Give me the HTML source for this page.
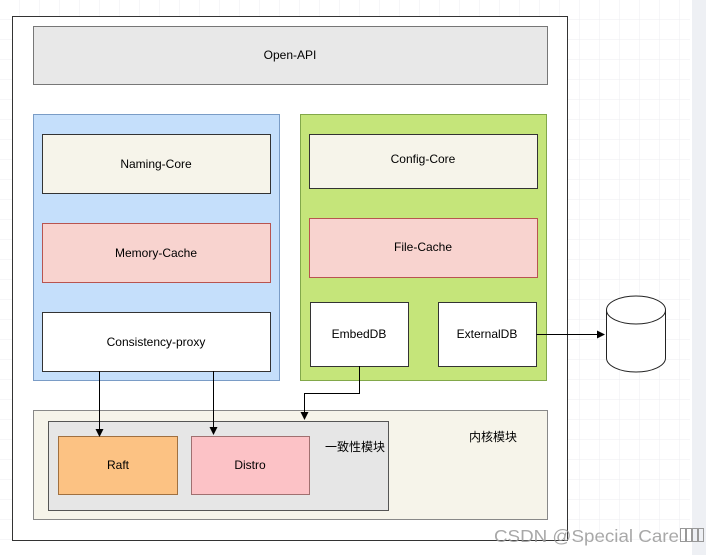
<!DOCTYPE html>
<html><head><meta charset="utf-8"><style>
body{margin:0;width:720px;height:555px;background:#fff;overflow:hidden;font-family:"Liberation Sans","Noto Sans CJK SC",sans-serif;}
</style></head><body>
<svg width="720" height="555" xmlns="http://www.w3.org/2000/svg" font-family="Liberation Sans, Noto Sans CJK SC, sans-serif" font-size="12">
<defs>
<pattern id="g" width="20" height="20" patternUnits="userSpaceOnUse"><path d="M20 0V20H0" fill="none" stroke="#eceef0" stroke-width="1"/></pattern>
<marker id="a" markerWidth="8" markerHeight="8" refX="7" refY="4" orient="auto" markerUnits="userSpaceOnUse"><path d="M0,0L8,4L0,8z" fill="#000"/></marker>
</defs>
<rect x="0" y="0" width="690" height="540" fill="url(#g)"/>
<rect x="692" y="0" width="14" height="555" fill="#eef0f4"/>
<rect x="12.5" y="16.5" width="555" height="524" fill="#fff" stroke="#333"/>
<rect x="33.5" y="26.5" width="514" height="58" fill="#e8e8e8" stroke="#777"/>
<text x="290" y="59" text-anchor="middle">Open-API</text>
<rect x="33.5" y="114.5" width="246" height="266" fill="#c5dffb" stroke="#7a9cc6"/>
<rect x="42.5" y="134.5" width="228" height="59" fill="#f6f4ea" stroke="#333"/>
<text x="156" y="168" text-anchor="middle">Naming-Core</text>
<rect x="42.5" y="223.5" width="228" height="59" fill="#f8d3cf" stroke="#b85450"/>
<text x="156" y="257" text-anchor="middle">Memory-Cache</text>
<rect x="42.5" y="312.5" width="228" height="59" fill="#fff" stroke="#333"/>
<text x="156" y="346" text-anchor="middle">Consistency-proxy</text>
<rect x="300.5" y="114.5" width="246" height="266" fill="#c5e57a" stroke="#82a84a"/>
<rect x="309.5" y="134.5" width="228" height="54" fill="#f6f4ea" stroke="#333"/>
<text x="423" y="163" text-anchor="middle">Config-Core</text>
<rect x="309.5" y="218.5" width="228" height="59" fill="#f8d3cf" stroke="#b85450"/>
<text x="423" y="251" text-anchor="middle">File-Cache</text>
<rect x="310.5" y="302.5" width="98" height="64" fill="#fff" stroke="#333"/>
<text x="359" y="338" text-anchor="middle">EmbedDB</text>
<rect x="438.5" y="302.5" width="98" height="64" fill="#fff" stroke="#333"/>
<text x="487" y="338" text-anchor="middle">ExternalDB</text>
<path d="M536.5 334.5H604" stroke="#000" fill="none" marker-end="url(#a)"/>
<path d="M606.5 310V358A29.5 14 0 0 0 665.5 358V310" fill="#fff" stroke="#222"/>
<ellipse cx="636" cy="310" rx="29.5" ry="14" fill="#fff" stroke="#222"/>
<rect x="33.5" y="410.5" width="514" height="109" fill="#f6f4ea" stroke="#888"/>
<text x="493" y="441" text-anchor="middle" font-size="12">内核模块</text>
<rect x="48.5" y="421.5" width="340" height="89" fill="#e6e6e6" stroke="#555"/>
<text x="355" y="451" text-anchor="middle" font-size="12">一致性模块</text>
<rect x="58.5" y="436.5" width="119" height="58" fill="#fcc283" stroke="#a07040"/>
<text x="118" y="469" text-anchor="middle">Raft</text>
<rect x="191.5" y="436.5" width="118" height="58" fill="#fcc2c6" stroke="#a07070"/>
<text x="250" y="469" text-anchor="middle">Distro</text>
<path d="M99.5 371V436" stroke="#000" fill="none" marker-end="url(#a)"/>
<path d="M213.5 371V434" stroke="#000" fill="none" marker-end="url(#a)"/>
<path d="M359.5 366V393.5H304.5V419" stroke="#000" fill="none" marker-end="url(#a)"/>
<text x="494" y="542" font-size="17.5" fill="#999" opacity="0.85" textLength="185" lengthAdjust="spacingAndGlyphs">CSDN @Special Care</text>
<g fill="none" stroke="#999" stroke-width="1"><rect x="680.5" y="528.5" width="5" height="13"/><rect x="686.5" y="528.5" width="5" height="13"/><rect x="692.5" y="528.5" width="5" height="13"/><rect x="698.5" y="528.5" width="5" height="13"/></g>
</svg>
</body></html>
